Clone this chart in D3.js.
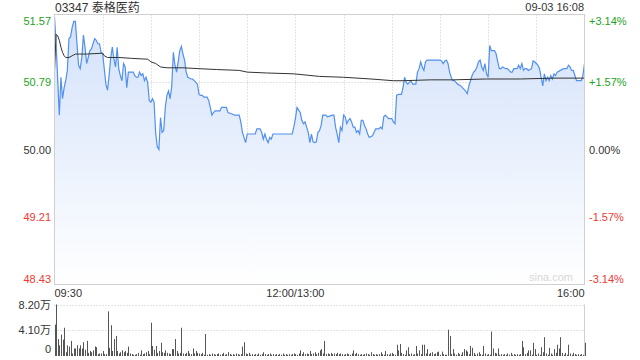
<!DOCTYPE html>
<html>
<head>
<meta charset="utf-8">
<script src="https://cdn.jsdelivr.net/npm/d3@7"></script>
<style>
  body { margin: 0; background: #fff; }
  text { font-family: "Liberation Sans", Arial, "Noto Sans CJK SC", sans-serif; }
</style>
</head>
<body>
<svg id="chart"></svg>
<script>
// Stock info
const title = "03347 泰格医药";
const stamp = "09-03 16:08";
const prevClose = 50.00;

// Price ticks (left) and percent ticks (right)
const priceTicks = [51.57, 50.79, 50.00, 49.21, 48.43];
const pctTicks = ["+3.14%", "+1.57%", "0.00%", "-1.57%", "-3.14%"];
const timeLabels = ["09:30", "12:00/13:00", "16:00"];
const volTicks = [8.20, 4.10, 0];
const volTickLabels = ["8.20万", "4.10万", "0"];

// Price line: minute since 09:30 (lunch removed) and price
const priceMinutes = [0, 1, 3, 4, 5, 6, 7, 8, 9, 10, 11, 12, 13, 14, 15, 16, 17, 18, 19, 20,
  21, 22, 23, 24, 25, 26, 27, 28, 29, 30, 32, 33, 34, 35, 36, 37, 38, 39, 40, 41,
  42, 43, 44, 45, 46, 49, 50, 51, 52, 53, 54, 55, 56, 57, 58, 59, 60, 61, 62, 63,
  64, 65, 66, 67, 68, 69, 70, 71, 72, 73, 74, 75, 76, 77, 78, 79, 80, 81, 82, 83,
  85, 86, 87, 88, 89, 90, 91, 92, 93, 95, 96, 97, 98, 99, 100, 103, 104, 107, 108, 111,
  112, 115, 116, 117, 119, 120, 123, 125, 126, 128, 129, 130, 131, 132, 133, 134, 135, 136, 148, 149,
  150, 151, 153, 154, 155, 156, 157, 158, 159, 160, 161, 162, 163, 164, 165, 166, 167, 169, 170, 173,
  174, 175, 176, 177, 178, 179, 180, 181, 182, 183, 184, 185, 186, 187, 188, 189, 190, 191, 192, 193,
  194, 195, 196, 198, 199, 200, 202, 203, 204, 205, 206, 207, 208, 210, 211, 212, 213, 214, 216, 217,
  218, 219, 220, 221, 222, 223, 225, 226, 227, 228, 229, 230, 231, 232, 234, 240, 241, 242, 243, 244,
  245, 246, 247, 248, 249, 250, 251, 253, 255, 256, 257, 258, 259, 260, 261, 262, 263, 264, 265, 266,
  267, 268, 269, 270, 271, 272, 274, 275, 276, 277, 278, 279, 281, 282, 283, 284, 285, 286, 288, 289,
  290, 291, 292, 293, 294, 295, 297, 298, 299, 300, 301, 302, 304, 305, 306, 307, 308, 309, 310, 311,
  312, 313, 315, 317, 319, 320, 321, 322, 323, 324, 325, 328, 329, 330];
const prices = [51.54, 51.23, 50.40, 50.84, 50.59, 50.72, 50.80, 50.92, 51.29, 51.31, 51.42, 51.49, 51.49, 51.23, 50.98, 50.94, 51.07, 51.33, 51.19, 51.00,
  51.07, 51.15, 51.17, 51.23, 51.29, 51.27, 51.23, 51.23, 51.13, 51.11, 50.76, 50.69, 50.86, 51.07, 51.19, 51.05, 50.96, 51.19, 50.94, 50.86,
  50.80, 51.00, 50.96, 50.72, 50.90, 50.90, 50.86, 50.84, 50.84, 50.90, 50.86, 50.88, 50.80, 50.84, 50.78, 50.57, 50.55, 50.59, 50.55, 50.19,
  50.03, 50.00, 50.37, 50.20, 50.22, 50.49, 50.63, 50.68, 50.59, 50.74, 51.13, 50.98, 50.90, 51.02, 51.15, 51.20, 51.11, 51.04, 50.90, 50.84,
  50.82, 50.82, 50.80, 50.78, 50.76, 50.64, 50.63, 50.63, 50.61, 50.61, 50.57, 50.49, 50.40, 50.43, 50.45, 50.45, 50.49, 50.49, 50.43, 50.41,
  50.40, 50.40, 50.32, 50.20, 50.08, 50.18, 50.18, 50.18, 50.24, 50.24, 50.20, 50.12, 50.18, 50.12, 50.08, 50.14, 50.12, 50.18, 50.18, 50.26,
  50.36, 50.49, 50.43, 50.34, 50.30, 50.32, 50.26, 50.20, 50.08, 50.18, 50.09, 50.08, 50.09, 50.20, 50.22, 50.28, 50.40, 50.40, 50.38, 50.40,
  50.40, 50.26, 50.18, 50.08, 50.26, 50.22, 50.40, 50.38, 50.30, 50.34, 50.36, 50.32, 50.26, 50.26, 50.20, 50.22, 50.18, 50.34, 50.34, 50.28,
  50.24, 50.18, 50.14, 50.16, 50.20, 50.24, 50.24, 50.26, 50.24, 50.38, 50.40, 50.38, 50.36, 50.36, 50.32, 50.30, 50.63, 50.64, 50.64, 50.72,
  50.84, 50.78, 50.76, 50.78, 50.80, 50.76, 50.76, 50.90, 50.94, 51.02, 50.96, 50.92, 51.02, 51.04, 51.04, 51.04, 51.03, 51.00, 51.03, 51.04,
  51.00, 50.90, 50.84, 50.80, 50.80, 50.78, 50.76, 50.74, 50.70, 50.68, 50.65, 50.74, 50.80, 50.86, 50.90, 50.92, 50.96, 51.02, 51.04, 50.96,
  50.92, 51.00, 50.88, 50.84, 51.21, 51.15, 51.15, 51.11, 51.02, 50.94, 50.94, 50.96, 50.94, 50.94, 50.92, 50.90, 50.90, 50.94, 50.94, 50.98,
  50.94, 51.00, 50.92, 50.94, 50.94, 50.92, 50.94, 51.03, 51.02, 51.00, 50.98, 50.94, 50.74, 50.88, 50.80, 50.84, 50.80, 50.86, 50.82, 50.88,
  50.86, 50.90, 50.92, 50.94, 50.94, 50.98, 50.96, 50.92, 50.92, 50.86, 50.80, 50.80, 50.86, 51.00];

// Average price line
const avgMinutes = [0, 1, 2, 3, 4, 5, 6, 7, 9, 11, 13, 20, 30, 31, 33, 40, 48, 58, 60, 63,
  66, 70, 80, 90, 101, 115, 120, 132, 149, 165, 180, 197, 211, 217, 234, 248, 269, 290, 311, 330];
const avgPrices = [50.92, 51.34, 51.32, 51.27, 51.19, 51.13, 51.09, 51.07, 51.07, 51.09, 51.11, 51.11, 51.12, 51.09, 51.07, 51.07, 51.06, 51.05, 51.02, 51.00,
  50.96, 50.95, 50.95, 50.94, 50.93, 50.92, 50.90, 50.89, 50.88, 50.85, 50.84, 50.82, 50.80, 50.80, 50.81, 50.81, 50.82, 50.82, 50.83, 50.83];

// Volume per minute (万股), minute 0..330
const volumes = [
  5.0, 8.2, 2.7, 1.7, 3.4, 2.6, 4.5, 0.6, 1.7, 1.5,
  2.4, 0.4, 1.2, 1.2, 1.7, 1.2, 1.7, 1.2, 2.2, 1.0,
  2.4, 0.5, 0.8, 0.6, 0.9, 1.5, 1.4, 0.3, 0.4, 0.4,
  0.8, 0.3, 0.3, 7.1, 1.3, 4.9, 0.8, 2.7, 3.2, 0.8,
  0.4, 0.6, 0.9, 0.6, 0.8, 0.5, 1.5, 0.4, 0.3, 0.2,
  0.2, 0.3, 0.5, 0.2, 0.9, 0.3, 0.4, 0.6, 0.8, 0.3,
  5.3, 1.6, 1.0, 1.6, 0.5, 0.8, 2.1, 0.6, 0.5, 0.9,
  0.5, 0.4, 0.3, 1.1, 1.1, 2.7, 0.8, 0.4, 0.5, 4.5,
  0.4, 0.3, 0.5, 0.8, 0.4, 0.3, 1.2, 0.4, 0.8, 0.5,
  0.4, 0.3, 0.5, 0.2, 3.5, 0.2, 0.3, 0.2, 0.4, 0.3,
  0.2, 0.3, 0.4, 0.2, 0.3, 0.5, 0.2, 0.3, 0.6, 0.3,
  0.2, 0.3, 0.2, 0.4, 0.3, 0.2, 0.3, 1.5, 2.2, 0.4,
  0.3, 0.5, 0.2, 0.3, 0.2, 0.3, 0.2, 0.4, 0.2, 0.3,
  0.6, 0.3, 0.2, 0.3, 0.4, 0.2, 0.3, 0.2, 0.3, 0.2,
  0.3, 0.2, 0.4, 0.2, 0.3, 0.2, 0.3, 0.2, 0.3, 0.4,
  0.3, 0.2, 0.4, 0.9, 0.3, 0.6, 0.3, 0.4, 0.3, 0.8,
  0.3, 0.4, 0.6, 0.3, 0.5, 0.9, 1.1, 0.4, 2.4, 0.3,
  0.4, 0.3, 0.5, 0.3, 0.4, 0.3, 0.5, 0.3, 0.4, 0.3,
  0.2, 0.3, 0.4, 0.3, 0.2, 0.4, 0.9, 0.3, 0.5, 0.3,
  0.2, 0.3, 0.2, 0.3, 0.4, 0.3, 0.2, 0.6, 0.3, 0.2,
  0.3, 0.2, 0.3, 0.6, 0.3, 0.2, 0.8, 0.3, 0.2, 0.4,
  0.5, 0.3, 0.2, 1.8, 0.9, 1.9, 0.5, 0.3, 0.2, 0.9,
  1.4, 0.3, 0.4, 0.2, 0.3, 1.6, 0.4, 0.9, 0.3, 1.8,
  1.8, 0.4, 1.1, 0.3, 0.5, 0.6, 0.3, 0.4, 0.6, 0.7,
  0.2, 0.7, 0.3, 0.2, 0.2, 4.2, 3.2, 0.3, 1.1, 0.4,
  0.2, 0.5, 0.3, 0.2, 0.6, 1.1, 0.9, 0.7, 0.3, 1.6,
  1.3, 0.5, 0.2, 0.4, 0.6, 0.3, 0.2, 1.6, 0.4, 0.2,
  0.3, 0.2, 3.9, 1.2, 0.5, 0.4, 1.2, 0.2, 0.3, 0.2,
  0.3, 0.2, 0.4, 0.2, 0.5, 0.2, 0.3, 0.2, 0.3, 0.2,
  0.3, 2.4, 1.4, 0.3, 0.5, 0.9, 0.9, 0.2, 2.1, 1.1,
  0.2, 0.4, 0.2, 1.4, 0.6, 3.0, 0.4, 0.2, 1.3, 0.4,
  0.2, 1.1, 0.5, 1.8, 1.2, 3.0, 0.5, 0.2, 0.5, 0.2,
  1.8, 0.4, 0.2, 0.5, 0.3, 0.2, 0.3, 0.2, 0.3, 0.2,
  2.1
];

const width = 640, height = 360;
const plot = { left: 54.5, right: 584.5, top: 14.5, bottom: 284.5 };
const volBox = { top: 304.5, bottom: 356 };

const green = "#22a322", red = "#f03a32", dark = "#333";

const svg = d3.select("#chart")
  .attr("width", width)
  .attr("height", height);

// Scales
const x = d3.scaleLinear().domain([0, 330]).range([plot.left, plot.right]);
const y = d3.scaleLinear().domain([48.43, 51.57]).range([plot.bottom, plot.top]);
const yVol = d3.scaleLinear().domain([0, 8.2]).range([volBox.bottom, volBox.top]);

// Gradient for the area
const grad = svg.append("defs").append("linearGradient")
  .attr("id", "areaFill")
  .attr("gradientUnits", "userSpaceOnUse")
  .attr("x1", 0).attr("y1", plot.top)
  .attr("x2", 0).attr("y2", plot.bottom);
grad.append("stop").attr("offset", "0%").attr("stop-color", "#d2e1fa");
grad.append("stop").attr("offset", "100%").attr("stop-color", "#ffffff");

// Vertical grid every 30 minutes
svg.append("g")
  .selectAll("line")
  .data(d3.range(30, 330, 30))
  .join("line")
  .attr("x1", d => Math.round(x(d)) + 0.5)
  .attr("x2", d => Math.round(x(d)) + 0.5)
  .attr("y1", plot.top)
  .attr("y2", plot.bottom)
  .attr("stroke", "#c8c8c8")
  .attr("stroke-dasharray", "1,2");

// Horizontal grid
svg.append("g")
  .selectAll("line")
  .data(priceTicks.slice(1, 4))
  .join("line")
  .attr("x1", plot.left)
  .attr("x2", plot.right)
  .attr("y1", d => Math.round(y(d)) + 0.5)
  .attr("y2", d => Math.round(y(d)) + 0.5)
  .attr("stroke", d => d === prevClose ? "#aaa" : "#c8c8c8")
  .attr("stroke-dasharray", d => d === prevClose ? "2,2" : "1,2");

// Area + price line
const series = priceMinutes.map((m, i) => ({ m: m, p: prices[i] }));

const area = d3.area()
  .x(d => x(d.m))
  .y0(plot.bottom)
  .y1(d => y(d.p));

svg.append("path")
  .datum(series)
  .attr("d", area)
  .attr("fill", "url(#areaFill)");

const line = d3.line()
  .x(d => x(d.m))
  .y(d => y(d.p));

svg.append("path")
  .datum(series)
  .attr("d", line)
  .attr("fill", "none")
  .attr("stroke", "#5290ee")
  .attr("stroke-width", 1.2);

// Average line
const avgSeries = avgMinutes.map((m, i) => ({ m: m, p: avgPrices[i] }));
svg.append("path")
  .datum(avgSeries)
  .attr("d", line)
  .attr("fill", "none")
  .attr("stroke", "#333")
  .attr("stroke-width", 1);

// Frame
svg.append("rect")
  .attr("x", plot.left)
  .attr("y", plot.top)
  .attr("width", plot.right - plot.left)
  .attr("height", plot.bottom - plot.top)
  .attr("fill", "none")
  .attr("stroke", "#d0d0d0");

// Watermark
svg.append("text")
  .text("sina.com")
  .attr("x", 573)
  .attr("y", 281)
  .attr("text-anchor", "end")
  .attr("font-size", 11)
  .attr("fill", "#d8d8d8");

// Title and date
svg.append("text")
  .text(title)
  .attr("x", 55)
  .attr("y", 12)
  .attr("font-size", 12)
  .attr("fill", dark);

svg.append("text")
  .text(stamp)
  .attr("x", 584)
  .attr("y", 11)
  .attr("text-anchor", "end")
  .attr("font-size", 11)
  .attr("fill", dark);

// Left price labels
const tickColor = (d) => d > prevClose ? green : (d < prevClose ? red : dark);
const labelY = (i, v) => i === 0 ? y(v) + 10 : (i === 4 ? y(v) - 2 : y(v) + 4);

svg.append("g")
  .selectAll("text")
  .data(priceTicks)
  .join("text")
  .text(d => d.toFixed(2))
  .attr("x", 51)
  .attr("y", (d, i) => labelY(i, d))
  .attr("text-anchor", "end")
  .attr("font-size", 11)
  .attr("fill", tickColor);

// Right percent labels
svg.append("g")
  .selectAll("text")
  .data(priceTicks)
  .join("text")
  .text((d, i) => pctTicks[i])
  .attr("x", 589)
  .attr("y", (d, i) => labelY(i, d))
  .attr("font-size", 11)
  .attr("fill", tickColor);

// Time labels
svg.append("text").text(timeLabels[0])
  .attr("x", x(0)).attr("y", 297).attr("font-size", 11).attr("fill", dark);
svg.append("text").text(timeLabels[1])
  .attr("x", x(150)).attr("y", 297).attr("text-anchor", "middle").attr("font-size", 11).attr("fill", dark);
svg.append("text").text(timeLabels[2])
  .attr("x", x(330)).attr("y", 297).attr("text-anchor", "end").attr("font-size", 11).attr("fill", dark);

// Volume panel grid
svg.append("g")
  .selectAll("line")
  .data(volTicks.slice(0, 2))
  .join("line")
  .attr("x1", plot.left)
  .attr("x2", plot.right)
  .attr("y1", d => Math.round(yVol(d)) + 0.5)
  .attr("y2", d => Math.round(yVol(d)) + 0.5)
  .attr("stroke", "#c8c8c8")
  .attr("stroke-dasharray", "1,2");

svg.append("line")
  .attr("x1", plot.right).attr("x2", plot.right)
  .attr("y1", volBox.top).attr("y2", volBox.bottom)
  .attr("stroke", "#d0d0d0");

// Volume bars
svg.append("g")
  .selectAll("rect")
  .data(volumes)
  .join("rect")
  .attr("x", (d, i) => Math.round(x(i)))
  .attr("y", d => yVol(d))
  .attr("width", 1)
  .attr("height", d => volBox.bottom - yVol(d))
  .attr("fill", "#555");

// Volume labels
svg.append("g")
  .selectAll("text")
  .data(volTicks)
  .join("text")
  .text((d, i) => volTickLabels[i])
  .attr("x", 51)
  .attr("y", (d, i) => i === 2 ? yVol(d) - 3 : yVol(d) + 4)
  .attr("text-anchor", "end")
  .attr("font-size", 11)
  .attr("fill", dark);
</script>
</body>
</html>
